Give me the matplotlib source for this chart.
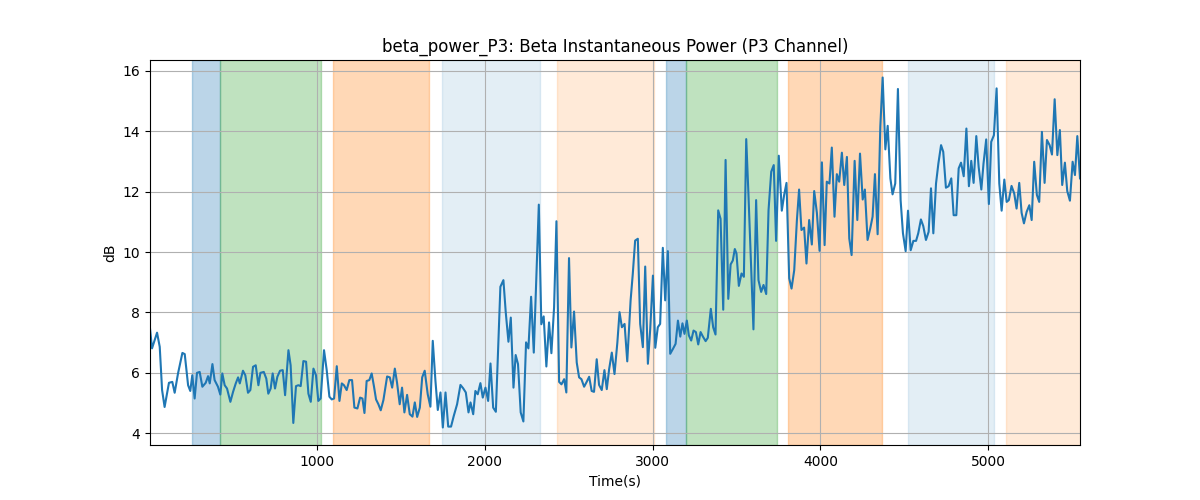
import matplotlib
matplotlib.use("Agg")
import matplotlib.pyplot as plt
import numpy as np

time_s = [
    5, 17, 47, 63, 77, 92, 118, 138, 152, 172, 198, 212, 232, 245, 257, 271, 285, 301, 317, 337,
    351, 361, 377, 390, 410, 424, 436, 450, 464, 484, 500, 516, 530, 540, 559, 573, 589, 603, 619, 635,
    651, 663, 683, 698,
    710, 724, 736, 750, 764, 780, 796, 810, 830, 843, 859, 875, 889, 903, 919, 935, 949, 963, 979, 994,
    1008, 1022, 1042, 1058, 1074, 1088, 1102, 1118, 1134, 1148, 1161, 1177, 1193, 1209, 1223, 1241,
    1257, 1271, 1283, 1296, 1312, 1326, 1340, 1352, 1366, 1380, 1396,
    1418, 1434, 1448, 1464, 1477, 1493, 1507, 1521, 1537, 1553, 1569, 1583, 1597, 1613, 1627, 1642,
    1660, 1676, 1690, 1706, 1720, 1736, 1750, 1766, 1782, 1799, 1815, 1835, 1855, 1871, 1887, 1903,
    1915, 1931, 1944, 1958, 1974, 1988, 2004, 2020, 2034, 2050, 2066, 2080, 2093,
    2111, 2125, 2141, 2155, 2171, 2184, 2198, 2214, 2230, 2246, 2260, 2276, 2292, 2308, 2322, 2337,
    2351, 2367, 2383, 2397, 2413, 2427, 2443, 2457, 2473, 2486, 2502, 2516, 2532, 2548, 2562, 2576,
    2592, 2608, 2622, 2637, 2651, 2667, 2681, 2697, 2713, 2727, 2741, 2757, 2773, 2790,
    2803, 2817, 2833, 2849, 2869, 2882, 2896, 2912, 2926, 2942, 2956, 2972, 2986, 3002, 3016, 3031,
    3045, 3061, 3075, 3091, 3105, 3121, 3137, 3151, 3165, 3178, 3190, 3204, 3216, 3230, 3244, 3258,
    3272, 3286, 3300, 3316, 3329, 3347, 3361, 3375, 3391, 3405, 3421, 3435, 3451, 3465, 3478, 3490,
    3500, 3514, 3530, 3544, 3558, 3571, 3585, 3601, 3617, 3631, 3647, 3661, 3677, 3691, 3707, 3722,
    3736, 3752, 3770, 3784, 3798, 3814, 3828, 3844, 3860, 3873, 3887, 3903, 3917, 3933, 3949, 3963,
    3979, 3995, 4009, 4025, 4038, 4054, 4068, 4084, 4098, 4112, 4128, 4142, 4158, 4172, 4186,
    4204, 4220, 4236, 4252, 4265, 4281, 4297, 4311, 4325, 4341, 4357, 4371, 4387, 4401, 4417, 4430,
    4446, 4462, 4478, 4492, 4508, 4522, 4538, 4554, 4570, 4583, 4599, 4613, 4629, 4645, 4659, 4673,
    4689, 4703, 4719, 4732, 4748, 4764, 4780, 4794, 4810, 4824, 4838, 4854, 4870, 4885,
    4899, 4913, 4929, 4943, 4959, 4972, 4988, 5004, 5018, 5034, 5050, 5066, 5080, 5096, 5110, 5123,
    5139, 5155, 5169, 5185, 5199, 5213, 5229, 5245, 5259, 5274, 5290, 5304, 5320, 5336, 5350, 5366,
    5380, 5396, 5412, 5427, 5441, 5457, 5471, 5487, 5503, 5517, 5531, 5547,
]

power_db = [
    7.47, 6.81, 7.33, 6.86, 5.43, 4.87, 5.67, 5.70, 5.34, 5.98, 6.66, 6.62, 5.59, 5.40, 5.92, 5.15,
    6.00, 6.03, 5.54, 5.67, 5.89, 5.65, 6.29, 5.76, 5.54, 5.28, 5.98, 5.59, 5.48, 5.04, 5.37, 5.65,
    5.85, 5.65, 6.07, 5.92, 5.34, 5.43, 6.20, 6.25, 5.59, 6.00, 6.03, 5.81,
    5.31, 5.48, 5.98, 5.48, 5.87, 6.07, 6.09, 5.26, 6.75, 6.25, 4.34, 5.56, 5.59, 5.56, 6.39, 6.37,
    5.31, 5.04, 6.14, 5.92, 5.07, 5.15, 6.75, 6.09, 5.21, 5.12, 5.15, 6.22, 5.07, 5.65, 5.59, 5.43,
    5.76, 5.76, 4.85, 4.82, 5.18, 5.15, 4.67, 5.73, 5.76, 5.98, 5.54, 5.12, 4.96, 4.76, 5.10,
    5.88, 5.85, 5.51, 6.14, 5.68, 4.96, 5.51, 4.69, 5.27, 4.63, 4.55, 5.02, 4.54, 4.85, 5.85, 6.07,
    5.29, 4.88, 7.06, 5.73, 4.77, 5.35, 4.19, 5.35, 4.22, 4.22, 4.57, 4.96, 5.60, 5.49, 5.35, 4.69,
    5.02, 4.63, 5.40, 5.29, 5.66, 5.18, 5.51, 5.07, 6.31, 4.85, 4.71, 6.84, 8.85,
    9.07, 8.00, 7.03, 7.83, 5.51, 6.59, 6.29, 4.69, 4.39, 7.01, 6.81, 8.52, 6.67, 9.27, 11.57, 7.61,
    7.87, 6.21, 7.67, 6.65, 8.17, 11.02, 5.70, 5.62, 5.79, 5.35, 9.80, 6.84, 8.03, 6.34, 5.85, 5.79,
    5.54, 5.71, 5.87, 5.40, 5.37, 6.45, 5.60, 5.43, 6.09, 5.46, 6.12, 6.67, 5.96, 7.00,
    8.01, 7.51, 7.62, 6.38, 8.40, 9.28, 10.38, 10.44, 7.62, 6.85, 9.52, 6.30, 7.46, 9.22, 6.83, 7.51,
    7.62, 10.14, 8.40, 10.03, 6.63, 6.79, 6.96, 7.73, 7.20, 7.64, 7.29, 7.73, 7.24, 7.07, 7.40, 7.35,
    6.94, 7.35, 7.20, 7.05, 7.16, 8.12, 7.51, 7.27, 11.38, 11.10, 8.09, 13.05, 8.45, 9.59, 9.72, 10.10,
    9.95, 8.88, 9.29, 9.18, 13.74, 11.94, 9.84, 7.44, 11.72, 9.07, 8.68, 8.91, 8.61, 11.39, 12.66, 12.88,
    10.37, 13.19, 11.37, 11.89, 12.29, 9.13, 8.79, 9.40, 11.06, 12.07, 10.73, 10.81, 9.62, 11.06, 10.25, 12.02,
    11.30, 10.04, 12.97, 10.23, 12.33, 12.27, 13.46, 11.17, 12.58, 12.33, 13.29, 12.22, 13.15, 10.45, 9.90,
    13.02, 11.06, 13.26, 11.74, 12.07, 10.40, 10.78, 11.17, 12.58, 10.59, 14.15, 15.78, 13.40, 14.18, 12.44, 11.91,
    12.27, 15.40, 11.72, 10.62, 10.03, 11.37, 10.06, 10.37, 10.37, 10.62, 11.08, 10.86, 10.40, 10.67, 12.11, 10.62,
    12.27, 12.93, 13.54, 13.32, 12.13, 12.18, 12.44, 11.22, 11.22, 12.77, 12.96, 12.51, 14.09, 12.18,
    13.02, 12.29, 13.84, 12.82, 12.07, 12.93, 13.73, 11.59, 13.65, 13.87, 15.42, 12.27, 11.37, 12.40, 11.66, 11.72,
    12.19, 11.94, 11.44, 12.29, 11.30, 10.95, 11.33, 11.55, 11.06, 12.99, 11.89, 11.66, 13.98, 12.29, 13.71, 13.54,
    13.23, 15.06, 13.21, 14.04, 12.22, 12.96, 12.02, 11.70, 12.99, 12.55, 13.84, 12.44,
]

# shaded phases (start, end in seconds) and their colours / opacity
span_starts = [253, 420, 1093, 1744, 2430, 3080, 3201, 3807, 4523, 5105]
span_ends = [420, 1024, 1668, 2327, 3006, 3201, 3744, 4366, 5032, 5560]
span_colors = ["tab:blue", "tab:green", "tab:orange", "tab:blue", "tab:orange",
               "tab:blue", "tab:green", "tab:orange", "tab:blue", "tab:orange"]
span_alphas = [0.3, 0.3, 0.3, 0.12, 0.16, 0.3, 0.3, 0.3, 0.12, 0.16]

fig, ax = plt.subplots(figsize=(12, 5), dpi=100)
for s, e, c, a in zip(span_starts, span_ends, span_colors, span_alphas):
    ax.axvspan(s, e, color=c, alpha=a)
ax.plot(time_s, power_db, color="tab:blue", linewidth=1.5)
ax.set_xlim(time_s[0], time_s[-1])
ax.set_title("beta_power_P3: Beta Instantaneous Power (P3 Channel)")
ax.set_xlabel("Time(s)")
ax.set_ylabel("dB")
ax.grid(True)
fig.savefig("out.png", dpi=100)
